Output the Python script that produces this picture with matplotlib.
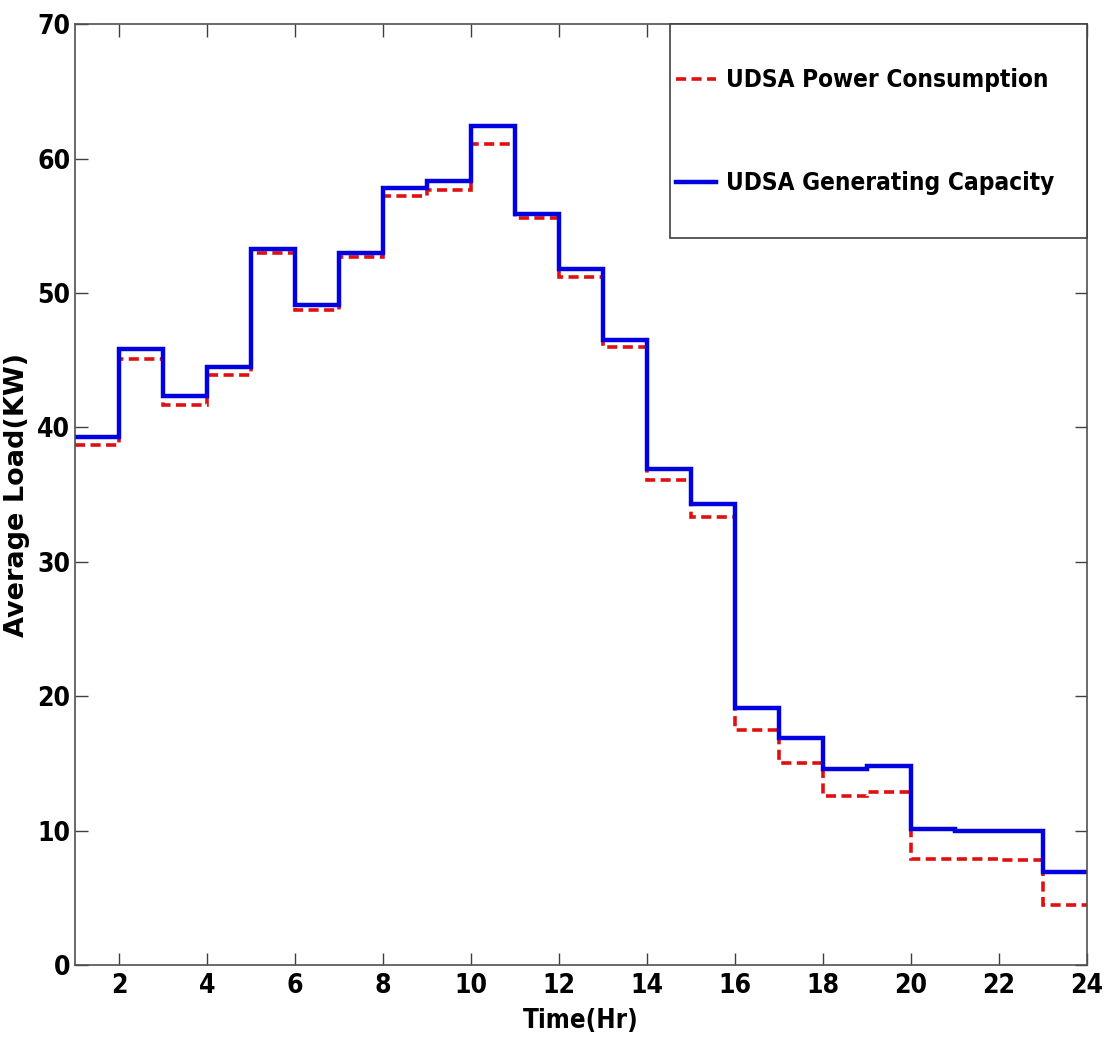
import matplotlib
matplotlib.use("Agg")
import matplotlib.pyplot as plt
from matplotlib.patches import Rectangle

# hourly steps, hour h covers [h, h+1)
hours = list(range(1, 25))
power_consumption = [38.7, 45.1, 41.7, 43.9, 53.0, 48.7, 52.7, 57.2, 57.7, 61.1, 55.6, 51.2,
                     46.0, 36.1, 33.3, 17.5, 15.0, 12.6, 12.9, 7.9, 7.85, 7.8, 4.5]
generating_capacity = [39.3, 45.8, 42.3, 44.5, 53.3, 49.1, 53.0, 57.8, 58.3, 62.4, 55.9, 51.8,
                       46.5, 36.9, 34.3, 19.1, 16.9, 14.6, 14.8, 10.1, 10.0, 9.95, 6.9]
xticks = list(range(2, 25, 2))
yticks = list(range(0, 71, 10))

narrow = ["Liberation Sans Narrow", "DejaVu Sans"]

fig = plt.figure(figsize=(11.11, 10.43), dpi=100)
ax = fig.add_axes([0.0675, 0.0748, 0.9105, 0.902])

l1 = ax.stairs(power_consumption, hours, baseline=None, color="#e01010", lw=2.6,
               linestyle=(0, (2.8, 1.5)), label="UDSA Power Consumption")
l2 = ax.stairs(generating_capacity, hours, baseline=None, color="#0000e0", lw=3.2,
               label="UDSA Generating Capacity")

ax.set_xlim(1, 24)
ax.set_ylim(0, 70)
ax.set_xticks(xticks)
ax.set_yticks(yticks)
ax.tick_params(direction="in", length=9, width=1, color="#404040",
               top=True, right=True, labelsize=19)
ax.tick_params(axis="x", pad=6)
ax.tick_params(axis="y", pad=3.5)
for lab in ax.get_xticklabels() + ax.get_yticklabels():
    lab.set_family(narrow)
    lab.set_fontweight("bold")
    lab.set_fontstretch("condensed")
for sp in ax.spines.values():
    sp.set_color("#505050")
    sp.set_linewidth(1.2)

ax.set_xlabel("Time(Hr)", family=narrow, fontweight="bold", fontstretch="condensed",
              fontsize=18.5, labelpad=6)
ax.set_ylabel("Average Load(KW)", family=["DejaVu Sans"],
              fontweight="bold", fontsize=19.5, labelpad=5)

# legend box (upper right corner of the axes)
box = Rectangle((0.588, 0.7726), 0.412, 0.2274, transform=ax.transAxes,
                facecolor="white", edgecolor="#404040", lw=1.2, zorder=5, clip_on=False)
ax.add_patch(box)
leg = ax.legend(handles=[l1, l2], loc="upper left", bbox_to_anchor=(0.594, 0.953),
                borderaxespad=0, borderpad=0, frameon=False,
                prop={"family": narrow, "weight": "bold", "size": 17.5, "stretch": "condensed"},
                handlelength=1.65, handletextpad=0.4, labelspacing=3.25)
leg.set_zorder(6)

fig.savefig("out.png", dpi=100)
